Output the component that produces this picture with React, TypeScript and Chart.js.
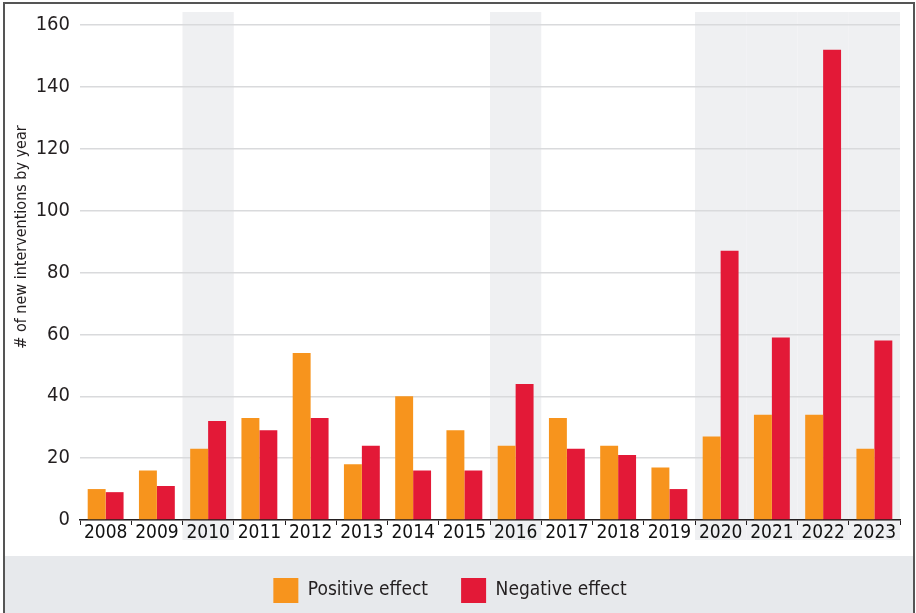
import React, { useEffect, useRef } from "react";
import { Chart, registerables } from "chart.js";

Chart.register(...registerables);

const years = ["2008", "2009", "2010", "2011", "2012", "2013", "2014", "2015", "2016", "2017", "2018", "2019", "2020", "2021", "2022", "2023"];
const positiveEffect = [10, 16, 23, 33, 54, 18, 40, 29, 24, 33, 24, 17, 27, 34, 34, 23];
const negativeEffect = [9, 11, 32, 29, 33, 24, 16, 16, 44, 23, 21, 10, 87, 59, 152, 58];
const shadedYears = ["2010", "2016", "2020", "2021", "2022", "2023"];
const yTicks = [0, 20, 40, 60, 80, 100, 120, 140, 160];
const yTitle = "# of new interventions by year";

const FONT = "'Liberation Sans Narrow', 'DejaVu Sans Condensed', 'Roboto Condensed', sans-serif";

const decorPlugin = {
  id: "decor",
  beforeDraw(chart: any) {
    const { ctx, width, height, scales } = chart;
    const x = scales.x;
    ctx.save();
    ctx.fillStyle = "#ffffff";
    ctx.fillRect(0, 0, width, height);
    // legend band
    ctx.fillStyle = "#e7e9ec";
    ctx.fillRect(5, 556, width - 7, height - 556);
    // shaded columns
    const step = (x.right - x.left) / years.length;
    ctx.fillStyle = "#eff0f2";
    years.forEach((yr, i) => {
      if (shadedYears.includes(yr)) {
        const c = x.getPixelForValue(i);
        ctx.fillRect(c - step / 2, 12, step, 540 - 12);
      }
    });
    // frame
    ctx.strokeStyle = "#555555";
    ctx.lineWidth = 2;
    ctx.beginPath();
    ctx.moveTo(4, height);
    ctx.lineTo(4, 3);
    ctx.lineTo(914, 3);
    ctx.lineTo(914, height);
    ctx.stroke();
    ctx.restore();
  },
  afterDraw(chart: any) {
    const { ctx } = chart;
    ctx.save();
    ctx.translate(22, 237);
    ctx.rotate(-Math.PI / 2);
    ctx.fillStyle = "#231f20";
    ctx.font = `16px ${FONT}`;
    ctx.textAlign = "center";
    ctx.textBaseline = "middle";
    ctx.fillText(yTitle, 0, 0);
    ctx.restore();
  },
};

export default function App() {
  const ref = useRef<HTMLCanvasElement | null>(null);
  useEffect(() => {
    document.body.style.margin = "0";
    const chart = new Chart(ref.current as HTMLCanvasElement, {
      type: "bar",
      data: {
        labels: years,
        datasets: [
          { label: "Positive effect", data: positiveEffect, backgroundColor: "#f7941d", categoryPercentage: 0.7, barPercentage: 1 },
          { label: "Negative effect", data: negativeEffect, backgroundColor: "#e31937", categoryPercentage: 0.7, barPercentage: 1 },
        ],
      },
      options: {
        animation: false,
        responsive: false,
        layout: { padding: { top: 25, right: 16, left: 0, bottom: 0 } },
        plugins: {
          tooltip: { enabled: false },
          legend: {
            position: "bottom",
            labels: {
              boxWidth: 25,
              boxHeight: 25,
              padding: 16,
              color: "#231f20",
              font: { family: FONT, size: 19 },
              generateLabels(chart: any) {
                const items = Chart.defaults.plugins.legend.labels.generateLabels(chart);
                return items.map((it: any, i: number) =>
                  i < items.length - 1 ? { ...it, text: it.text + "\u2002\u2002" } : it
                );
              },
            },
          },
        },
        scales: {
          x: {
            offset: true,
            grid: { offset: true, drawOnChartArea: false, drawTicks: true, tickLength: 5, color: "#231f20", lineWidth: 1 },
            border: { display: true, color: "#231f20", width: 1.5 },
            ticks: { color: "#111111", font: { family: FONT, size: 19 }, padding: -3, maxRotation: 0, autoSkip: false },
            afterFit(scale: any) { scale.height = 42; },
          },
          y: {
            min: 0,
            max: 160,
            afterBuildTicks(scale: any) { scale.ticks = yTicks.map((v) => ({ value: v })); },
            grid: { color: "#d9dadc", lineWidth: 1.5, drawTicks: false },
            border: { display: false },
            ticks: { color: "#231f20", font: { family: FONT, size: 20 }, padding: 10 },
            afterFit(scale: any) { scale.width = 80; },
          },
        },
      },
      plugins: [decorPlugin],
    });
    return () => chart.destroy();
  }, []);
  return (
    <div style={{ position: "fixed", left: 0, top: 0, width: 916, height: 613 }}>
      <canvas ref={ref} width={916} height={613} style={{ width: 916, height: 613, display: "block" }} />
    </div>
  );
}
